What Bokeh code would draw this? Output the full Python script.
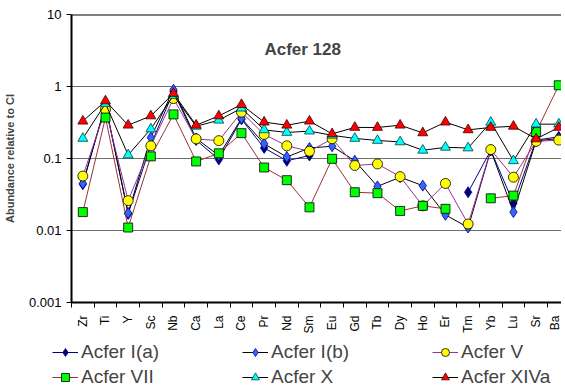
import math
import numpy as np
from bokeh.plotting import figure
from bokeh.layouts import column, row
from bokeh.models import (FixedTicker, CustomJSTickFormatter, Legend, LegendItem,
                          Label, Span, ColumnDataSource, Range1d)
from bokeh.embed import file_html
from bokeh.resources import INLINE

nan = float("nan")

elements = ["Zr", "Ti", "Y", "Sc", "Nb", "Ca", "La", "Ce", "Pr", "Nd", "Sm",
            "Eu", "Gd", "Tb", "Dy", "Ho", "Er", "Tm", "Yb", "Lu", "Sr", "Ba"]

acfer_ia = [0.044, 0.55, 0.017, 0.155, 0.85, 0.18, 0.097, 0.35, 0.14, 0.093, 0.11,
            nan, nan, nan, nan, nan, nan, 0.034, 0.13, 0.024, 0.18, 0.2]
acfer_ib = [0.045, 0.56, 0.0175, 0.195, 0.9, 0.19, 0.11, 0.36, 0.16, 0.105, 0.14,
            0.148, 0.093, 0.041, 0.055, 0.042, 0.0165, 0.011, 0.13, 0.018, 0.175, 0.19]
acfer_v = [0.057, 0.48, 0.026, 0.15, 0.68, 0.187, 0.177, 0.44, 0.216, 0.15, 0.126,
           0.188, 0.08, 0.084, 0.056, 0.022, 0.045, 0.0123, 0.133, 0.055, 0.173, 0.18]
acfer_vii = [0.018, 0.37, 0.011, 0.107, 0.41, 0.091, 0.118, 0.225, 0.075, 0.05, 0.021,
             0.099, 0.034, 0.033, 0.0187, 0.022, 0.02, nan, 0.028, 0.0305, 0.233, 1.04]
acfer_x = [0.19, 0.58, 0.112, 0.257, 0.75, 0.28, 0.34, 0.5, 0.25, 0.23, 0.24,
           0.21, 0.19, 0.178, 0.17, 0.13, 0.143, 0.14, 0.318, 0.093, 0.3, 0.3]
acfer_xiva = [0.33, 0.63, 0.29, 0.39, 0.8, 0.29, 0.39, 0.56, 0.32, 0.29, 0.33,
              0.22, 0.27, 0.27, 0.29, 0.227, 0.32, 0.25, 0.27, 0.28, 0.187, 0.27]

series_names = ["Acfer I(a)", "Acfer I(b)", "Acfer V", "Acfer VII", "Acfer X", "Acfer XIVa"]
y_ticks = [0.001, 0.01, 0.1, 1, 10]

FONT = "Liberation Sans"

p = figure(width=561, height=341, y_axis_type="log",
           x_range=(-0.5, 21.12), y_range=(0.001, 10),
           output_backend="svg", toolbar_location=None,
           min_border_left=69, min_border_right=0, min_border_top=14, min_border_bottom=39)
p.outline_line_color = None
p.background_fill_color = "white"
p.border_fill_color = "white"

leg = figure(width=561, height=47, output_backend="svg", toolbar_location=None,
             x_range=Range1d(0, 1), y_range=Range1d(0, 1),
             x_axis_location=None, y_axis_location=None,
             min_border_left=0, min_border_right=0, min_border_top=0, min_border_bottom=0)
leg.outline_line_color = None
leg.xgrid.visible = False
leg.ygrid.visible = False

xs = list(range(len(elements)))

styles = [
    dict(data=acfer_ia, line="#000080", marker="diamond", fill="#000080", mline="#000080", size=11),
    dict(data=acfer_ib, line="#000000", marker="diamond", fill="#3366FF", mline="#000080", size=11),
    dict(data=acfer_v, line="#993399", marker="circle", fill="#FFFF00", mline="#000000", size=10),
    dict(data=acfer_vii, line="#993333", marker="square", fill="#00FF00", mline="#000000", size=9),
    dict(data=acfer_x, line="#000000", marker="triangle", fill="#00FFFF", mline="#004040", size=10),
    dict(data=acfer_xiva, line="#000000", marker="triangle", fill="#FF0000", mline="#400000", size=10),
]

items = []
for name, st in zip(series_names, styles):
    src = ColumnDataSource(dict(x=xs, y=st["data"]))
    p.line("x", "y", source=src, line_color=st["line"], line_width=1)
    p.scatter("x", "y", source=src, marker=st["marker"], size=st["size"],
              fill_color=st["fill"], line_color=st["mline"], line_width=0.8)
    # legend swatches (same styles) in the legend strip; their point lies outside the strip's range
    dummy = ColumnDataSource(dict(x=[5, 6], y=[5, 5]))
    lr = leg.line("x", "y", source=dummy, line_color=st["line"], line_width=1)
    sr = leg.scatter("x", "y", source=dummy, marker=st["marker"], size=st["size"],
                     fill_color=st["fill"], line_color=st["mline"], line_width=0.8)
    items.append(LegendItem(label=name, renderers=[lr, sr]))

# axes
xa = p.xaxis[0]
xa.ticker = FixedTicker(ticks=xs, minor_ticks=[i - 0.5 for i in range(len(elements) + 1)])
xa.formatter = CustomJSTickFormatter(args=dict(cats=elements),
                                     code="const i = Math.round(tick); return (i >= 0 && i < cats.length) ? cats[i] : '';")
xa.major_label_orientation = math.pi / 2
xa.major_tick_out = 0
xa.major_tick_in = 0
xa.minor_tick_out = 5
xa.minor_tick_in = 0
xa.minor_tick_line_color = "black"
xa.axis_line_width = 2
xa.axis_line_color = "black"
xa.major_label_text_font = FONT
xa.major_label_text_font_size = "12px"
xa.major_label_text_color = "black"
xa.major_label_standoff = 8

ya = p.yaxis[0]
ya.ticker = FixedTicker(ticks=y_ticks)
ya.formatter = CustomJSTickFormatter(code="return tick.toString();")
ya.minor_tick_line_color = None
ya.major_tick_out = 5
ya.major_tick_in = 0
ya.axis_line_width = 2
ya.axis_line_color = "black"
ya.major_label_text_font = FONT
ya.major_label_text_font_size = "13px"
ya.major_label_text_color = "black"
ya.axis_label = "Abundance relative to CI"
ya.axis_label_text_font = FONT
ya.axis_label_text_font_size = "11px"
ya.axis_label_text_font_style = "bold"
ya.axis_label_standoff = 10

p.xgrid.grid_line_color = None
p.ygrid.ticker = FixedTicker(ticks=[0.01, 0.1, 1])
p.ygrid.grid_line_color = "#6e6e6e"
p.ygrid.grid_line_width = 1

p.add_layout(Span(location=10, dimension="width", line_color="black", line_width=2))

p.add_layout(Label(x=9.7, y=3.28, text="Acfer 128", text_font=FONT,
                   text_font_size="17px", text_font_style="bold",
                   text_align="center", text_baseline="middle"))

legend = Legend(items=items, location=(52, 0), orientation="horizontal", nrows=2,
                label_text_font=FONT, label_text_font_size="19px",
                glyph_width=26, glyph_height=20, label_height=20, label_standoff=3,
                label_width=158, spacing=3, padding=0, margin=0,
                background_fill_alpha=0, border_line_color=None)
leg.add_layout(legend, "center")

layout = column(p, row(leg), spacing=0)
open("out.html", "w").write(file_html(layout, INLINE))
